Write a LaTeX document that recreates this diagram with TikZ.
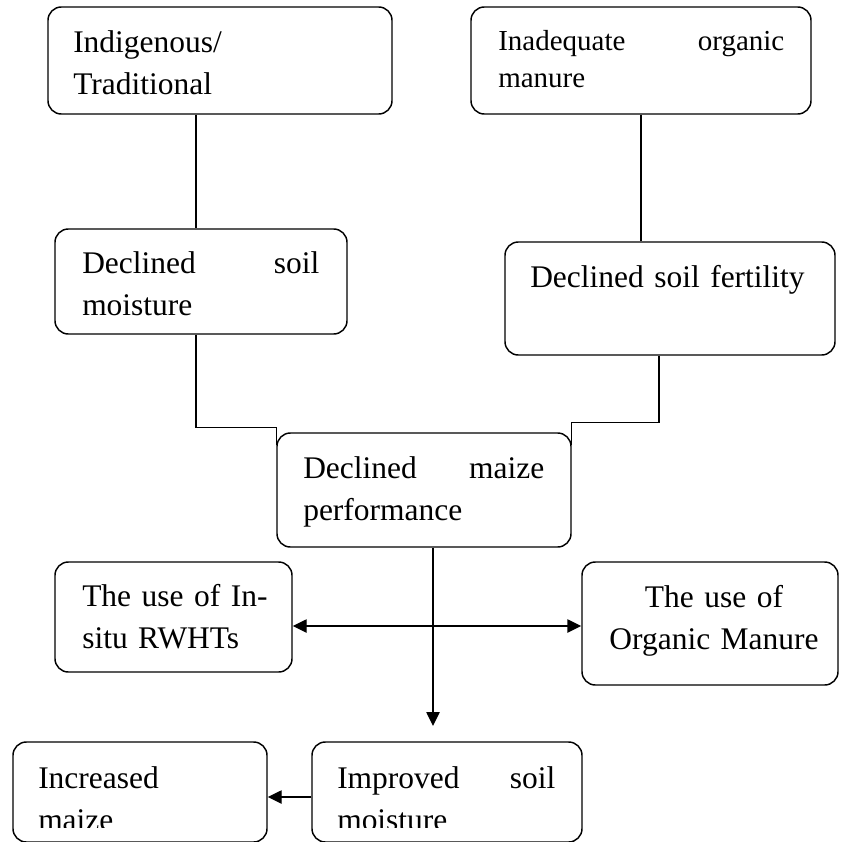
\documentclass[tikz,border=0pt]{standalone}
\usepackage{fontspec}
\setmainfont{Liberation Serif}
\usetikzlibrary{arrows.meta,calc,fit}
\newcommand\mainsize{\fontsize{23.6pt}{31.5pt}\selectfont}
\newcommand\smallsize{\fontsize{21.75pt}{27.75pt}\selectfont}
\tikzset{
  box/.style={draw, line width=1.1pt, rounded corners=10pt, inner sep=0pt},
  txt/.style={anchor=base west, inner sep=0pt, align=left, font=\mainsize},
  conn/.style={line width=1.1pt},
  arr/.style={conn, -{Triangle[length=10.5pt,width=10pt]}},
  darr/.style={conn, {Triangle[length=10.5pt,width=10pt]}-{Triangle[length=10.5pt,width=10pt]}},
}
\begin{document}
\begin{tikzpicture}[x=0.75pt,y=-0.75pt]
\useasboundingbox (0,0) rectangle (840,842);
\clip (0,0) rectangle (840,842);
% boxes
\node[box, fit={(48,7) (392,114)}] (b1) {};
\node[box, fit={(471,7) (811,114)}] (b2) {};
\node[box, fit={(55,229) (347,334)}] (b3) {};
\node[box, fit={(505,242) (835,355)}] (b4) {};
\node[box, fit={(277,433) (571,547)}] (b5) {};
\node[box, fit={(55,562) (292,672)}] (b6) {};
\node[box, fit={(582,562) (838,685)}] (b7) {};
\node[box, fit={(13,742) (267,842)}] (b8) {};
\node[box, fit={(312,742) (582,842)}] (b9) {};
% texts
\node[txt, text width=230pt] (t1) at (73,53) {Indigenous/\\Traditional};
\node[txt, font=\smallsize, text width=214.5pt] (t2) at (498,51) {Inadequate\hfill organic\\manure};
\node[txt, text width=177.75pt] (t3) at (82,273) {Declined\hfill soil\\moisture};
\node[txt, text width=240pt] (t4) at (530,287) {Declined soil fertility};
\node[txt, text width=180.75pt] (t5) at (303,478) {Declined\hfill maize\\performance};
\node[txt, text width=165pt] (t6) at (82,606) {The use of In-\\situ RWHTs};
\node[txt, anchor=base, align=center, text width=180pt] (t7) at (714,607) {The use of\\Organic Manure};
\begin{scope}
\clip (0,0) rectangle (840,827);
\node[txt, text width=170pt] (t8) at (38,788) {Increased\\maize};
\node[txt, text width=163.5pt] (t9) at (337,788) {Improved\hfill soil\\moisture};
\end{scope}
% connectors
\coordinate (x1) at (196,0);
\coordinate (x2) at (659,0);
\coordinate (x3) at (433,0);
\coordinate (tip) at (433,726);
\coordinate (y4) at (0,626);
\coordinate (y5) at (0,797);
\draw[conn] (b1.south -| x1) -- (b3.north -| x1);
\draw[conn] (b2.south) -- (b4.north -| b2.south);
\draw[conn] (b3.south -| x1) |- ($(b5.north west)+(0,-5)$) -- ($(b5.north west)+(0,13)$);
\draw[conn] (b4.south -| x2) |- ($(b5.north east)+(0,-10)$) -- ($(b5.north east)+(0,13)$);
\draw[arr] (b5.south -| x3) -- (tip);
\draw[darr] (b6.east |- y4) -- (b7.west |- y4);
\draw[arr] (b9.west |- y5) -- (b8.east |- y5);
\end{tikzpicture}
\end{document}
